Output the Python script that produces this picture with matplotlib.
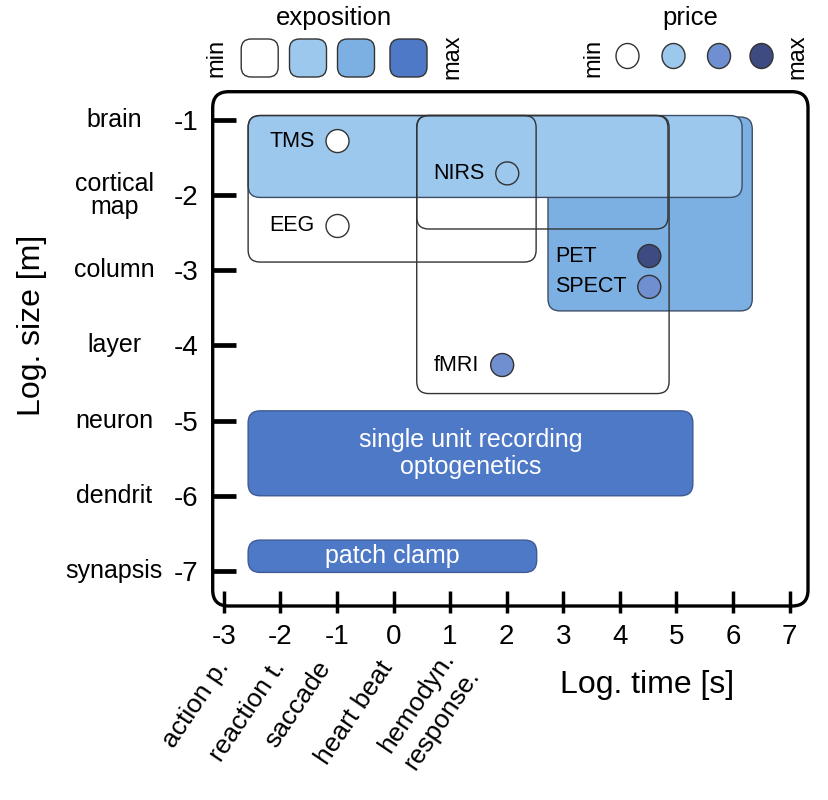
import matplotlib
matplotlib.use('Agg')
import matplotlib.pyplot as plt
from matplotlib.patches import FancyBboxPatch, Ellipse

plt.rcParams['font.family'] = ['Liberation Sans', 'DejaVu Sans']
plt.rcParams['axes.unicode_minus'] = False

# ---------------- data ----------------
size_ticks = [-1, -2, -3, -4, -5, -6, -7]
size_names = ['brain', 'cortical\nmap', 'column', 'layer', 'neuron', 'dendrit', 'synapsis']
time_ticks = [-3, -2, -1, 0, 1, 2, 3, 4, 5, 6, 7]
event_names = ['action p.', 'reaction t.', 'saccade', 'heart beat', 'hemodyn.\nresponse.']
event_times = [-3.0, -2.0, -1.2, -0.1, 1.2]

box_names = ['PET/SPECT', 'TMS', 'EEG', 'NIRS', 'fMRI',
             'single unit recording\noptogenetics', 'patch clamp']
box_time_min = [2.73, -2.57, -2.57, 0.41, 0.41, -2.57, -2.57]
box_time_max = [6.34, 6.16, 2.52, 4.85, 4.87, 5.29, 2.53]
box_size_min = [-3.54, -2.03, -2.89, -2.45, -4.64, -6.00, -7.02]
box_size_max = [-0.96, -0.94, -0.94, -0.94, -0.94, -4.87, -6.59]
box_exposition = [2, 1, 0, 0, 0, 3, 3]

method_names = ['TMS', 'EEG', 'NIRS', 'fMRI', 'PET', 'SPECT']
method_time = [-0.99, -0.99, 2.01, 1.92, 4.52, 4.52]
method_size = [-1.28, -2.41, -1.71, -4.26, -2.81, -3.22]
method_price = [0, 0, 1, 2, 3, 2]

exposition_levels = [0, 1, 2, 3]
price_levels = [0, 1, 2, 3]
exposition_colors = ['#FFFFFF', '#9DC8EE', '#7DB0E2', '#4E79C7']
price_colors = ['#FFFFFF', '#9DC8EE', '#6F8FD1', '#3E4A82']

# ---------------- figure ----------------
W, H = 829, 800
fig = plt.figure(figsize=(W / 100, H / 100), dpi=100)
fig.patch.set_facecolor('white')

L, R, T, B = 212.7, 808.0, 91.7, 606.0
ax = fig.add_axes([L / W, 1 - B / H, (R - L) / W, (B - T) / H])
ax.set_xlim(-3.196, 7.325)
ax.set_ylim(-7.467, -0.623)
for sp in ax.spines.values():
    sp.set_visible(False)
ax.patch.set_alpha(0)

# ticks
ax.set_xticks(time_ticks)
ax.set_xticklabels([str(t) for t in time_ticks])
ax.set_xticks(time_ticks, minor=True)
ax.xaxis.remove_overlapping_locs = False
ax.set_yticks(size_ticks)
ax.set_yticklabels([str(s) for s in size_ticks])
ax.tick_params(axis='x', which='major', direction='in', length=10.8, width=2.5,
               pad=13.0, labelsize=20, color='black')
ax.tick_params(axis='x', which='minor', direction='out', length=4.8, width=2.5, color='black')
ax.tick_params(axis='y', which='major', direction='in', length=16.6, width=3.4,
               pad=10.4, labelsize=20, color='black')
ax.tick_params(axis='y', which='minor', left=False)

# pixels per data unit, for round corners
pxx = (R - L) / (7.325 + 3.196)
pxy = (B - T) / (7.467 - 0.623)
aspect = pxx / pxy
r_corner = 12 / pxx

zorder_of = {2: 1, 1: 2, 3: 2, 0: 3}
edge_of = {0: '#333333', 1: '#3d4d66', 2: '#3d4d66', 3: '#3f5a95'}
for name, t0, t1, s0, s1, e in zip(box_names, box_time_min, box_time_max,
                                   box_size_min, box_size_max, box_exposition):
    p = FancyBboxPatch((t0, s0), t1 - t0, s1 - s0,
                       boxstyle=f'round,pad=0,rounding_size={r_corner}',
                       mutation_aspect=aspect,
                       facecolor=exposition_colors[e] if e > 0 else 'none',
                       edgecolor=edge_of[e], linewidth=1.0, zorder=zorder_of[e])
    ax.add_patch(p)
    if e == 3:
        ax.text((t0 + t1) / 2, (s0 + s1) / 2, name, color='white', fontsize=18,
                ha='center', va='center', linespacing=1.15, zorder=6)

# method markers
ax.scatter(method_time, method_size, s=274,
           c=[price_colors[p] for p in method_price],
           edgecolors='#333333', linewidths=1.0, zorder=5)
texts = {}
for name, t, s in zip(method_names, method_time, method_size):
    texts[name] = ax.annotate(name, xy=(t, s), xytext=(-16.5, 0), textcoords='offset points',
                              ha='right', va='center', fontsize=15.5, zorder=6)

# PET label left-aligned with SPECT label
fig.canvas.draw()
bb = texts['SPECT'].get_window_extent()
texts['PET'].set_visible(False)
x_left = ax.transData.inverted().transform((bb.x0, 0))[0]
ax.text(x_left, method_size[method_names.index('PET')], 'PET', ha='left', va='center',
        fontsize=15.5, zorder=6)

# size category labels
for s, n in zip(size_ticks, size_names):
    ax.annotate(n, xy=(0, s), xycoords=('axes fraction', 'data'),
                xytext=(-70.8, 0), textcoords='offset points',
                ha='center', va='center', fontsize=18, linespacing=0.95,
                annotation_clip=False)

# event labels under the x axis
for t, n in zip(event_times, event_names):
    ax.annotate(n, xy=(t, 0), xycoords=('data', 'axes fraction'),
                xytext=(0, -41), textcoords='offset points',
                ha='right', va='center', rotation=56, rotation_mode='anchor',
                fontsize=19, linespacing=1.3, annotation_clip=False)

# axis labels
ax.annotate('Log. time [s]', xy=(0.7296, 0), xycoords='axes fraction',
            xytext=(0, -57), textcoords='offset points', ha='center', va='center',
            fontsize=23, annotation_clip=False)
ax.annotate('Log. size [m]', xy=(0, 0.546), xycoords='axes fraction',
            xytext=(-130, 0), textcoords='offset points', ha='center', va='center',
            rotation=90, fontsize=23, annotation_clip=False)

# ---------------- overlay: frame and legends (pixel layout) ----------------
ov = fig.add_axes([0, 0, 1, 1], zorder=10)
ov.set_xlim(0, W)
ov.set_ylim(H, 0)
ov.axis('off')
ov.patch.set_alpha(0)

ov.add_patch(FancyBboxPatch((L, T), R - L, B - T,
                            boxstyle='round,pad=0,rounding_size=16',
                            facecolor='none', edgecolor='black', linewidth=2.4))

# exposition legend
exp_x = [259.7, 308.0, 356.0, 408.5]
for cx, lvl in zip(exp_x, exposition_levels):
    ov.add_patch(FancyBboxPatch((cx - 18.5, 39), 37, 38,
                                boxstyle='round,pad=0,rounding_size=10',
                                facecolor=exposition_colors[lvl], edgecolor='#333333',
                                linewidth=1.0))
ov.text(334, 18, 'exposition', ha='center', va='center', fontsize=18.5)
ov.text(216, 58, 'min', ha='center', va='center', rotation=90, fontsize=17)
ov.text(452, 57, 'max', ha='center', va='center', rotation=90, fontsize=17)

# price legend
pr_x = [627.5, 673.5, 719.0, 761.5]
for cx, lvl in zip(pr_x, price_levels):
    ov.add_patch(Ellipse((cx, 56), 23, 25, facecolor=price_colors[lvl],
                         edgecolor='#333333', linewidth=1.0))
ov.text(690, 18, 'price', ha='center', va='center', fontsize=18.5)
ov.text(593, 58, 'min', ha='center', va='center', rotation=90, fontsize=17)
ov.text(797, 57, 'max', ha='center', va='center', rotation=90, fontsize=17)

fig.savefig('out.png', dpi=100)
